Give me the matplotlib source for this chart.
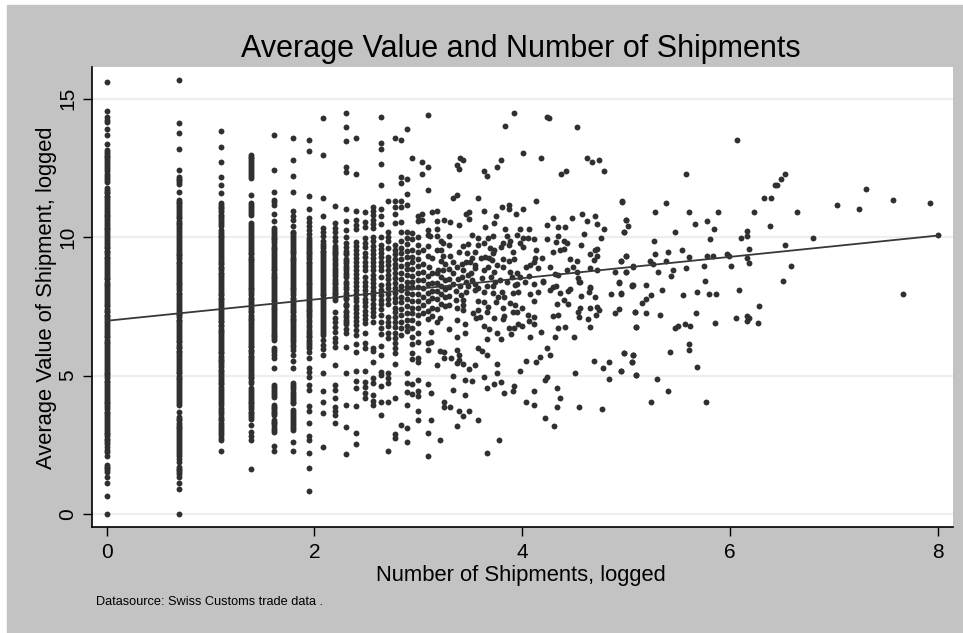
import matplotlib
matplotlib.use('Agg')
import matplotlib.pyplot as plt
from matplotlib.patches import Rectangle

plt.rcParams['font.family'] = 'Liberation Sans'

# shipments are counts, so the low end of the x axis falls into columns at log(n)
col_x = [0, 0.693, 1.099, 1.386, 1.609, 1.792, 1.946, 2.079, 2.197, 2.303,
         2.398, 2.485, 2.565, 2.639, 2.708, 2.773, 2.833, 2.890, 2.944, 2.996]

col_0 = [15.6, 14.56, 14.33, 14.17, 13.9, 13.7, 13.36, 13.15, 13.02, 12.9, 12.75, 12.6, 12.45, 12.3, 12.15, 12.0,
         11.78, 11.65, 11.5, 11.38, 11.22, 11.1, 10.95, 10.8, 10.7, 10.55, 10.4, 10.3, 10.15, 10.0, 9.88, 9.72,
         9.6, 9.45, 9.3, 9.18, 9.02, 8.9, 8.75, 8.6, 8.48, 8.32, 8.2, 8.05, 7.9, 7.78, 7.62, 7.5, 7.35, 7.2, 7.08,
         6.92, 6.8, 6.65, 6.5, 6.38, 6.22, 6.1, 5.95, 5.8, 5.68, 5.52, 5.4, 5.25, 5.1, 4.98, 4.82, 4.7, 4.55, 4.4,
         4.28, 4.12, 4.0, 3.85, 3.7, 3.58, 3.42, 3.3, 3.15, 3.0, 2.88, 2.72, 2.6, 2.43, 2.25, 2.1, 1.77, 1.65, 1.53,
         1.35, 1.11, 0.65, 0,
         14.25, 13.08, 12.95, 12.82, 12.68, 12.52, 12.38, 12.22, 12.08, 11.72, 11.58, 11.44, 11.3, 11.16, 11.02,
         10.88, 10.75, 10.62, 10.48, 10.35, 10.22, 10.08, 9.94, 9.8, 9.66, 9.52, 9.38, 9.24, 9.1, 8.96, 8.82, 8.68,
         8.54, 8.4, 8.26, 8.12, 7.98, 7.84, 7.7, 7.56, 7.42, 7.28, 7.14, 7.0, 6.86, 6.72, 6.58, 6.44, 6.3, 6.16,
         6.02, 5.88, 5.74, 5.6, 5.46, 5.32, 5.18, 5.04, 4.9, 4.76, 4.62, 4.48, 4.34, 4.2, 4.06, 3.92, 3.78, 3.64,
         3.5, 3.36, 3.22, 3.08, 2.94, 2.8, 2.66, 2.52, 2.32, 1.71, 1.59]
col_1 = [15.67, 14.14, 13.78, 13.19, 12.44, 12.19, 12.05, 11.93, 11.65, 11.35, 11.22, 11.08, 10.95, 10.8, 10.68,
         10.52, 10.4, 10.25, 10.1, 9.98, 9.82, 9.7, 9.55, 9.4, 9.28, 9.12, 9.0, 8.85, 8.7, 8.58, 8.42, 8.3, 8.15,
         8.0, 7.88, 7.72, 7.6, 7.45, 7.3, 7.18, 7.02, 6.9, 6.75, 6.6, 6.48, 6.32, 6.2, 6.05, 5.9, 5.78, 5.62, 5.5,
         5.35, 5.2, 5.08, 4.92, 4.8, 4.65, 4.5, 4.38, 4.22, 4.1, 3.94, 3.7, 3.52, 3.38, 3.22, 3.1, 2.95, 2.8, 2.68,
         2.52, 2.4, 2.25, 2.1, 1.89, 1.71, 1.58, 1.45, 1.35, 1.11, 0.9, 0,
         12.12, 11.99, 11.28, 11.15, 11.02, 10.88, 10.74, 10.6, 10.46, 10.32, 10.18, 10.04, 9.9, 9.76, 9.62, 9.48,
         9.34, 9.2, 9.06, 8.92, 8.78, 8.64, 8.5, 8.36, 8.22, 8.08, 7.94, 7.8, 7.66, 7.52, 7.38, 7.24, 7.1, 6.96,
         6.82, 6.68, 6.54, 6.4, 6.26, 6.12, 5.98, 5.84, 5.7, 5.56, 5.42, 5.28, 5.14, 5.0, 4.86, 4.72, 4.58, 4.44,
         4.3, 4.16, 4.02, 3.45, 3.3, 3.16, 3.02, 2.88, 2.74, 2.6, 2.46, 2.32, 2.18, 2.0, 1.64, 1.5]
col_2 = [13.84, 13.25, 12.73, 12.17, 11.88, 11.59, 11.24, 11.1, 10.98, 10.82, 10.7, 10.55, 10.42, 10.26, 10.12,
         10.0, 9.85, 9.72, 9.58, 9.42, 9.3, 9.15, 9.02, 8.88, 8.72, 8.6, 8.45, 8.32, 8.18, 8.02, 7.9, 7.75, 7.62,
         7.48, 7.32, 7.2, 7.05, 6.92, 6.78, 6.62, 6.5, 6.35, 6.22, 6.08, 5.92, 5.8, 5.65, 5.52, 5.38, 5.22, 5.1,
         4.95, 4.82, 4.68, 4.52, 4.38, 4.22, 4.08, 3.92, 3.75, 3.6, 3.45, 3.3, 3.15, 3.0, 2.85, 2.67, 2.28,
         10.2, 10.06, 9.92, 9.78, 9.64, 9.5, 9.36, 9.22, 9.08, 8.94, 8.8, 8.66, 8.52, 8.38, 8.24, 8.1, 7.96, 7.82,
         7.68, 7.54, 7.4, 7.26, 7.12, 6.98, 6.84, 6.7, 6.56, 6.42, 6.28, 6.14, 6.0, 5.86, 5.72, 5.58, 5.44, 5.3,
         5.16, 5.02, 4.88, 4.74, 4.6, 4.46, 4.3, 4.15, 4.0, 3.84, 3.68, 3.52, 3.38, 3.22, 3.08, 2.92, 2.76,
         11.17, 11.04, 10.9, 10.76, 10.62, 10.49]
col_3 = [12.97, 12.85, 12.7, 12.58, 12.42, 12.3, 12.14, 11.53, 11.24, 11.1, 10.95, 10.8, 10.5, 10.36, 10.22, 10.08,
         9.92, 9.8, 9.65, 9.52, 9.38, 9.22, 9.1, 8.95, 8.82, 8.68, 8.52, 8.4, 8.25, 8.12, 7.98, 7.82, 7.7, 7.55,
         7.42, 7.28, 7.12, 7.0, 6.85, 6.72, 6.58, 6.42, 6.3, 6.15, 6.02, 5.88, 5.72, 5.6, 5.45, 5.32, 5.18, 5.02,
         4.9, 4.73, 4.55, 4.42, 4.28, 4.12, 4.0, 3.85, 3.7, 3.58, 3.42, 3.2, 2.97, 2.82, 2.67, 1.63,
         12.9, 12.78, 12.64, 12.5, 12.36, 12.22, 11.17, 11.03, 10.88, 10.43, 10.29, 10.15, 10.0, 9.86, 9.72, 9.58,
         9.44, 9.3, 9.16, 9.02, 8.88, 8.74, 8.6, 8.46, 8.32, 8.18, 8.04, 7.9, 7.76, 7.62, 7.48, 7.34, 7.2, 7.06,
         6.92, 6.78, 6.64, 6.5, 6.36, 6.22, 6.08, 5.94, 5.8, 5.66, 5.52, 5.38, 5.24, 5.1, 4.96, 4.82, 4.48, 4.35,
         4.2, 4.06, 3.92, 3.78, 3.64, 3.5]
col_4 = [13.71, 12.43, 11.64, 11.35, 11.17, 10.84, 10.6, 10.34, 10.2, 10.05, 9.92, 9.78, 9.62, 9.5, 9.35, 9.22, 9.08,
         8.92, 8.8, 8.65, 8.52, 8.38, 8.22, 8.1, 7.95, 7.82, 7.68, 7.52, 7.4, 7.25, 7.12, 6.98, 6.82, 6.7, 6.55, 6.42,
         6.29, 6.0, 5.85, 5.64, 5.29, 4.66, 4.52, 4.38, 4.23, 3.94, 3.82, 3.7, 3.58, 3.4, 3.28, 3.12, 2.97, 2.47, 2.28,
         11.26, 10.27, 10.12, 9.98, 9.85, 9.7, 9.56, 9.42, 9.28, 9.15, 9.0, 8.86, 8.72, 8.58, 8.44, 8.3, 8.16, 8.02,
         7.88, 7.74, 7.6, 7.46, 7.32, 7.18, 7.05, 6.9, 6.76, 6.62, 6.48, 6.35, 5.92, 5.75, 4.59, 4.45, 4.3, 3.88,
         3.76, 3.64, 3.34, 3.2, 3.05]
col_5 = [13.59, 12.79, 12.22, 11.62, 10.93, 10.78, 10.63, 10.42, 10.2, 10.08, 9.92, 9.8, 9.65, 9.52, 9.38, 9.22,
         9.1, 8.95, 8.82, 8.68, 8.52, 8.4, 8.25, 8.12, 7.98, 7.82, 7.7, 7.55, 7.42, 7.28, 7.12, 7.0, 6.85, 6.72, 6.58,
         6.42, 6.3, 6.1, 5.93, 5.75, 5.54, 5.29, 4.73, 4.58, 4.42, 4.28, 4.12, 4.0, 3.76, 3.62, 3.48, 3.32, 3.18, 3.04,
         2.61, 2.28,
         10.14, 10.0, 9.86, 9.72, 9.58, 9.45, 9.3, 9.16, 9.02, 8.88, 8.75, 8.6, 8.46, 8.32, 8.18, 8.05, 7.9, 7.76,
         7.62, 7.48, 7.35, 7.2, 7.06, 6.92, 6.78, 6.65, 6.5, 6.36, 6.2, 6.05, 4.65, 4.5, 4.35, 4.2, 4.06, 3.69, 3.55,
         3.4, 3.25, 3.11]
col_6 = [13.52, 13.13, 11.49, 11.02, 10.7, 10.55, 10.4, 10.25, 10.1, 9.97, 9.84, 9.7, 9.55, 9.42, 9.28, 9.12, 9.0,
         8.85, 8.72, 8.58, 8.42, 8.3, 8.15, 8.02, 7.88, 7.72, 7.6, 7.45, 7.32, 7.18, 7.02, 6.83, 6.65, 6.5, 6.38,
         6.22, 6.08, 5.87, 5.65, 5.29, 5.12, 4.95, 4.66, 4.48, 3.91, 3.73, 3.28, 2.83, 2.67, 2.2, 1.66, 0.83,
         9.9, 9.77, 9.62, 9.48, 9.35, 9.2, 9.06, 8.92, 8.78, 8.65, 8.5, 8.36, 8.22, 8.08, 7.95, 7.8, 7.66, 7.52,
         7.38, 7.25, 7.1, 6.95, 6.76, 6.58, 6.44, 6.3, 6.15, 6.0]
col_7 = [14.31, 12.97, 11.43, 10.78, 10.34, 10.2, 10.05, 9.88, 9.75, 9.6, 9.45, 9.32, 9.18, 9.02, 8.9, 8.75, 8.6,
         8.45, 8.32, 8.18, 8.02, 7.9, 7.75, 7.62, 7.48, 7.32, 7.2, 7.05, 6.9, 6.75, 6.6, 6.47, 6.29, 6.12, 5.95, 5.75,
         5.1, 4.45, 4.05, 3.65, 2.42,
         9.68, 9.52, 9.38, 9.25, 9.1, 8.96, 8.82, 8.68, 8.52, 8.38, 8.25, 8.1, 7.96, 7.82, 7.68, 7.55, 7.4, 7.26,
         7.12, 6.98, 6.82, 6.68, 6.54]
col_8 = [11.11, 10.5, 10.34, 10.18, 10.02, 9.88, 9.7, 9.55, 9.42, 9.25, 9.07, 8.88, 8.75, 8.6, 8.42, 8.3, 8.12, 8.0,
         7.88, 7.73, 7.31, 7.08, 6.92, 6.75, 6.58, 6.36, 6.2, 6.04, 5.38, 4.66, 4.48, 4.19, 3.87, 3.72, 3.58, 3.3,
         9.62, 9.48, 9.34, 9.16, 8.98, 8.82, 8.68, 8.5, 8.36, 8.2, 8.06, 7.94, 7.8]
col_9 = [14.49, 13.97, 13.49, 12.53, 12.37, 11.03, 10.57, 10.26, 9.99, 9.78, 9.65, 9.5, 9.38, 9.2, 9.08, 8.95, 8.8,
         8.7, 8.55, 8.4, 8.3, 8.12, 8.0, 7.9, 7.75, 7.6, 7.5, 7.35, 7.2, 7.1, 6.95, 6.85, 6.7, 6.53, 6.05, 5.1, 3.94,
         3.13, 2.16,
         9.44, 9.14, 8.88, 8.62, 8.2, 7.82, 7.55, 7.28, 7.02]
col_10 = [13.59, 12.27, 10.96, 10.62, 10.44, 10.28, 9.84, 9.7, 9.55, 9.4, 9.25, 9.12, 8.95, 8.82, 8.68, 8.52, 8.38,
          8.22, 8.1, 7.95, 7.8, 7.68, 7.52, 7.4, 7.25, 7.1, 6.98, 6.82, 6.65, 6.47, 6.14, 5.87, 5.17, 4.81, 4.56, 3.91,
          2.94, 2.54]
col_11 = [10.9, 10.56, 10.38, 9.96, 9.78, 9.66, 9.42, 9.28, 9.1, 8.95, 8.8, 8.57, 8.4, 8.25, 8.1, 7.95, 7.78, 7.65,
          7.5, 7.35, 7.2, 7.05, 6.9, 6.53, 6.17, 5.98, 5.16, 4.78, 4.6, 4.37, 4.18]
col_12 = [11.1, 10.95, 10.8, 10.62, 10.48, 10.32, 10.0, 9.85, 9.7, 9.55, 9.4, 9.25, 9.1, 8.95, 8.8, 8.65, 8.5, 8.35,
          8.2, 8.05, 7.9, 7.75, 7.6, 7.45, 7.3, 7.15, 6.95, 5.99, 5.9, 5.48, 4.9, 4.72, 4.3, 4.1, 3.94]
col_13 = [14.33, 13.39, 13.19, 12.65, 11.89, 11.03, 10.77, 10.48, 10.0, 9.72, 9.58, 9.42, 9.28, 9.12, 8.95, 8.8,
          8.57, 8.27, 8.1, 7.9, 7.73, 7.58, 7.4, 7.2, 6.95, 6.71, 6.5, 6.07, 5.75, 5.14, 5.02, 4.62, 4.03, 3.58]
col_14 = [11.3, 10.2, 10.0, 9.85, 9.6, 9.3, 9.15, 9.0, 8.82, 8.65, 8.5, 8.32, 8.15, 7.95, 7.78, 7.6, 7.13, 6.95, 6.78,
          6.55, 6.35, 5.08, 4.9, 4.72, 4.03, 2.29]
col_15 = [13.57, 11.3, 11.1, 10.84, 10.5, 9.72, 9.55, 9.4, 9.22, 9.05, 8.88, 8.7, 8.52, 8.35, 8.18, 8.0, 7.82, 7.65,
          7.45, 7.28, 7.1, 6.92, 6.75, 6.55, 6.35, 6.17, 5.98, 5.8, 5.42, 4.2, 2.9, 2.75]
col_16 = [13.51, 12.19, 11.95, 11.3, 11.1, 10.55, 10.2, 9.85, 9.62, 9.42, 9.2, 8.95, 8.72, 8.5, 8.25, 8.08, 7.85, 7.65,
          7.4, 7.18, 6.95, 6.72, 6.45, 3.2]
col_17 = [13.9, 12.09, 11.56, 11.16, 10.2, 9.98, 9.75, 9.5, 9.3, 9.05, 8.85, 8.62, 8.4, 8.2, 8.0, 7.78, 7.5, 7.25, 7.0,
          6.8, 6.6, 5.1, 4.75, 4.4, 3.92, 3.1, 2.6]
col_18 = [12.86, 10.15, 9.95, 9.55, 9.3, 9.1, 8.85, 8.6, 8.4, 8.2, 7.95, 7.7, 7.45, 7.25, 7.0, 6.72, 6.4, 6.15, 5.8,
          5.6, 4.7, 4.35]
col_19 = [10.77, 10.57, 10.0, 9.72, 9.45, 9.2, 8.95, 8.7, 8.45, 8.2, 7.95, 7.7, 7.45, 7.2, 6.9, 6.55, 6.2, 5.65, 5.5,
          4.85, 4.45, 4.25, 3.72, 3.4]

col_y = [col_0, col_1, col_2, col_3, col_4, col_5, col_6, col_7, col_8, col_9, col_10,
         col_11, col_12, col_13, col_14, col_15, col_16, col_17, col_18, col_19]

# everything right of x = 3, read point by point
sparse_points = [
    (3.09, 14.43), (3.92, 14.49), (3.84, 14.03), (4.24, 14.33), (4.26, 14.3), (4.53, 13.97), (4.01, 13.05), (4.18, 12.86),
    (4.62, 12.86), (4.67, 12.73), (4.74, 12.79), (4.79, 12.4), (4.42, 12.4), (4.37, 12.27), (3.8, 12.79), (3.76, 12.54),
    (3.63, 12.4), (3.66, 12.21), (3.4, 12.86), (3.43, 12.79), (3.37, 12.6), (3.39, 12.45), (3.09, 12.54), (3.04, 12.73),
    (3.04, 12.27), (3.09, 11.69), (3.58, 11.43), (3.37, 11.53), (3.33, 11.43), (4.13, 11.3), (4.96, 11.3), (3.81, 11.09),
    (3.87, 11.16), (3.87, 11.01), (4.01, 11.03), (3.94, 10.84), (3.63, 10.93), (3.75, 10.77), (3.46, 10.84), (3.49, 10.9),
    (3.49, 10.67), (3.18, 10.93), (3.13, 10.9), (3.04, 10.84), (3.04, 10.61), (3.18, 10.57), (3.25, 10.63), (3.31, 10.55),
    (3.39, 10.44), (3.73, 10.5), (3.64, 10.38), (3.84, 10.31), (3.98, 10.31), (4.07, 10.31), (4.24, 10.44), (4.3, 10.71),
    (4.35, 10.38), (4.41, 10.38), (4.48, 10.71), (4.58, 10.84), (4.62, 10.57), (4.7, 10.77), (4.72, 10.48), (4.79, 10.31),
    (5.0, 10.63), (4.6, 10.12), (4.76, 9.98), (4.98, 10.18), (3.18, 10.31), (3.09, 10.26), (3.09, 10.08), (3.11, 10.06),
    (3.18, 10.06), (3.3, 10.06), (3.52, 10.08), (3.58, 9.98), (3.67, 9.98), (3.72, 10.06), (3.85, 10.06), (3.95, 10.08),
    (4.01, 9.98), (4.06, 9.98), (4.11, 9.92), (4.24, 9.92), (4.35, 10.06), (4.33, 9.81), (4.4, 9.85), (4.43, 9.79),
    (4.57, 9.72), (3.22, 9.85), (3.24, 9.79), (3.3, 9.72), (3.43, 9.69), (3.48, 9.75), (3.58, 9.72), (3.63, 9.79),
    (3.69, 9.6), (3.73, 9.54), (3.82, 9.79), (3.8, 9.66), (3.88, 9.85), (3.87, 9.72), (3.98, 9.79), (4.01, 9.66),
    (4.13, 9.53), (4.3, 9.47), (4.36, 9.54), (4.4, 9.59), (4.7, 9.54), (4.72, 9.59), (4.65, 9.39), (4.72, 9.33),
    (4.69, 9.18), (5.0, 9.33), (4.95, 9.14), (4.46, 9.2), (4.53, 9.14), (4.49, 8.93), (4.27, 8.91), (4.19, 9.26),
    (4.12, 9.26), (4.11, 9.12), (4.08, 9.0), (4.04, 8.93), (4.15, 8.87), (3.92, 9.2), (3.87, 9.14), (3.82, 9.2),
    (3.91, 9.45), (3.72, 9.42), (3.68, 9.24), (3.71, 9.18), (3.76, 9.0), (3.67, 8.93), (3.73, 8.75), (3.82, 8.93),
    (3.55, 9.48), (3.52, 9.26), (3.47, 9.42), (3.39, 9.48), (3.31, 9.33), (3.24, 9.33), (3.18, 9.53), (3.22, 9.54),
    (3.09, 9.69), (3.09, 9.33), (3.13, 9.24), (3.05, 9.05), (3.1, 8.93), (3.19, 8.81), (3.24, 8.81), (3.18, 8.69),
    (3.37, 8.93), (3.42, 9.05), (3.5, 9.12), (3.55, 9.0), (3.43, 8.81), (3.42, 8.57), (3.48, 8.63), (3.51, 8.72),
    (3.55, 8.88), (3.63, 8.81), (3.61, 8.51), (3.88, 8.75), (3.95, 8.69), (3.98, 8.57), (4.07, 8.6), (4.32, 8.67),
    (4.35, 8.63), (4.43, 8.81), (4.53, 8.75), (4.54, 8.51), (4.56, 8.39), (4.65, 8.87), (4.72, 8.81), (4.89, 8.75),
    (5.0, 8.75), (5.07, 8.93), (4.93, 8.39), (5.06, 8.25), (4.2, 8.42), (4.11, 8.3), (4.03, 8.39), (3.95, 8.3),
    (3.79, 8.45), (3.72, 8.25), (4.3, 8.21), (4.46, 8.12), (4.65, 8.15),
    # the crowded patch around the start of the scatter
    (3.05, 9.55), (3.05, 8.75), (3.05, 8.45), (3.05, 8.15), (3.05, 7.85), (3.05, 7.55), (3.05, 7.25), (3.09, 8.6),
    (3.09, 8.3), (3.09, 8.0), (3.09, 7.7), (3.09, 7.35), (3.09, 7.05), (3.13, 8.7), (3.13, 8.35), (3.13, 8.05),
    (3.13, 7.8), (3.13, 7.45), (3.13, 7.15), (3.18, 8.35), (3.18, 8.05), (3.18, 7.75), (3.18, 7.42), (3.22, 9.15),
    (3.22, 8.55), (3.22, 8.25), (3.22, 7.95), (3.22, 7.6), (3.26, 9.05), (3.26, 8.45), (3.26, 8.12), (3.26, 7.85),
    (3.26, 7.5), (3.3, 8.85), (3.3, 8.5), (3.3, 8.2), (3.3, 7.88), (3.3, 7.55), (3.33, 9.1), (3.33, 8.7), (3.33, 8.3),
    (3.36, 8.05), (3.36, 7.72), (3.38, 8.5), (3.4, 8.22), (3.41, 7.9), (3.46, 8.4), (3.46, 9.1), (3.52, 8.45),
    (3.55, 8.3), (3.58, 8.15), (3.6, 9.25), (3.64, 9.3), (3.7, 8.55), (3.74, 8.4), (3.85, 8.4), (3.9, 8.55),
    # middle band
    (4.55, 8.4), (4.93, 8.36), (5.07, 8.28), (4.65, 8.19), (4.64, 8.03), (4.86, 7.94), (4.95, 7.98), (4.7, 7.83),
    (4.57, 7.88), (4.44, 8.06), (4.36, 7.98), (4.27, 8.1), (4.33, 8.24), (4.2, 8.4), (4.15, 8.03), (4.08, 7.95),
    (4.11, 7.71), (3.96, 8.03), (3.91, 7.98), (3.93, 8.28), (3.83, 7.85), (3.81, 8.03), (3.75, 7.67), (3.77, 7.83),
    (3.72, 7.98), (3.63, 8.03), (3.66, 8.24), (3.55, 8.1), (3.46, 8.03), (3.48, 8.22), (3.58, 7.71), (3.63, 7.67),
    (3.43, 7.73), (3.43, 7.55), (3.37, 7.43), (3.43, 7.37), (3.53, 7.25), (3.58, 7.37), (3.66, 7.31), (3.67, 7.49),
    (3.56, 7.07), (3.59, 7.11), (3.73, 7.07), (3.82, 7.43), (3.83, 7.15), (3.82, 7.03), (3.88, 7.64), (3.91, 7.31),
    (3.95, 7.29), (4.0, 7.43), (3.93, 7.55), (4.06, 7.18), (4.11, 7.11), (4.07, 6.99), (4.11, 6.87), (4.3, 7.15),
    (4.35, 7.19), (4.34, 7.58), (4.4, 7.73), (4.44, 7.59), (4.54, 7.31), (4.56, 7.43), (4.55, 7.11), (4.65, 7.43),
    (4.72, 7.49), (4.74, 7.37), (4.71, 7.18), (4.63, 7.05), (4.65, 6.77), (4.89, 7.25), (4.93, 7.4), (5.09, 7.29),
    (5.1, 6.75), (4.35, 6.72), (4.41, 6.75), (4.18, 6.59), (4.08, 6.4), (4.32, 6.4), (4.5, 6.4), (4.0, 6.79),
    (3.96, 6.85), (3.92, 6.72), (3.87, 6.72), (3.89, 6.49), (3.8, 6.33), (3.76, 6.53), (3.68, 6.68), (3.63, 6.78),
    (3.66, 6.33), (3.45, 6.85), (3.45, 6.53), (3.37, 7.0), (3.3, 6.69), (3.37, 6.4), (3.21, 7.07), (3.18, 6.92),
    (3.12, 6.59), (3.12, 6.23), (3.09, 6.17), (3.09, 5.93), (3.58, 6.01), (3.61, 5.88), (3.66, 5.75), (3.37, 5.94),
    (3.21, 5.9), (3.25, 5.87), (3.39, 5.75), (3.32, 5.65), (3.25, 5.65), (3.39, 5.57), (3.37, 5.45), (3.43, 5.42),
    (3.18, 5.39), (3.55, 5.39), (3.49, 5.23), (3.76, 5.42), (3.76, 5.08), (3.98, 5.16), (4.24, 6.0), (4.27, 5.73),
    (4.17, 5.67), (4.13, 5.48), (4.04, 5.54), (4.69, 5.54), (4.84, 5.48), (4.78, 5.26), (4.98, 5.81), (5.07, 5.73),
    (5.06, 5.48), (4.95, 5.16), (5.1, 5.02), (4.84, 4.89), (4.51, 5.08), (4.24, 4.96), (4.22, 4.84), (3.33, 4.99),
    (3.33, 4.48), (3.45, 4.83), (3.52, 4.79), (3.63, 4.96), (3.8, 4.77), (3.73, 4.7), (3.66, 4.57), (3.92, 4.64),
    (3.91, 4.45), (3.83, 4.37), (4.11, 4.45), (4.34, 4.57), (4.36, 4.18), (4.34, 3.88), (4.04, 4.05), (4.11, 3.92),
    (4.55, 3.88), (4.77, 3.78), (4.22, 3.46), (4.31, 3.19), (3.45, 4.31), (3.09, 4.7), (3.12, 4.37), (3.25, 4.05),
    (3.25, 3.86), (3.31, 3.88), (3.39, 3.72), (3.49, 3.72), (3.43, 3.53), (3.12, 3.4), (3.58, 3.4), (3.37, 3.19),
    (3.09, 2.94), (3.21, 2.67), (3.78, 2.67), (3.09, 2.1), (3.66, 2.19),
    # right hand side
    (6.07, 13.51), (5.58, 12.27), (6.53, 12.27), (6.49, 12.1), (6.45, 11.89), (6.43, 11.89), (7.31, 11.75), (6.33, 11.42),
    (6.4, 11.42), (7.57, 11.36), (7.93, 11.25), (7.03, 11.16), (7.24, 11.03), (6.65, 10.92), (6.23, 10.92), (4.96, 11.28),
    (5.38, 11.22), (5.28, 10.9), (5.61, 10.9), (5.89, 10.9), (5.0, 10.63), (5.02, 10.42), (5.78, 10.57), (5.66, 10.48),
    (5.85, 10.31), (6.16, 10.24), (6.39, 10.42), (4.98, 10.18), (5.47, 10.18), (6.11, 9.98), (6.16, 10.04), (5.81, 9.92),
    (6.8, 9.98), (8.0, 10.08), (5.27, 9.85), (6.53, 9.72), (6.18, 9.59), (5.54, 9.53), (5.4, 9.47), (5.28, 9.39),
    (5.0, 9.33), (5.61, 9.3), (5.78, 9.33), (5.84, 9.33), (5.97, 9.39), (5.99, 9.33), (6.16, 9.26), (4.95, 9.14),
    (5.23, 9.14), (5.38, 9.14), (5.26, 9.03), (6.18, 9.07), (5.07, 8.95), (5.75, 8.97), (6.01, 8.97), (6.59, 8.95),
    (5.58, 8.87), (5.0, 8.74), (5.31, 8.74), (5.45, 8.81), (5.43, 8.61), (5.76, 8.42), (6.51, 8.42), (5.19, 8.28),
    (5.06, 8.26), (5.35, 8.09), (6.09, 8.09), (4.95, 7.96), (5.24, 7.92), (5.55, 7.9), (5.68, 8.03), (5.8, 7.96),
    (5.87, 7.96), (7.67, 7.96), (5.19, 7.77), (5.15, 7.63), (6.28, 7.5), (5.09, 7.28), (5.19, 7.25), (5.33, 7.18),
    (5.67, 7.25), (6.16, 7.16), (6.06, 7.08), (6.18, 7.07), (6.16, 6.98), (6.27, 6.91), (5.86, 6.91), (5.57, 6.85),
    (5.62, 6.78), (5.5, 6.78), (5.47, 6.72), (5.1, 6.75), (5.61, 6.13), (5.61, 5.94), (5.42, 5.86), (4.98, 5.8),
    (5.07, 5.74), (5.06, 5.48), (5.68, 5.32), (4.95, 5.15), (5.1, 5.02), (5.3, 4.89), (5.4, 4.43), (5.24, 4.04),
    (5.77, 4.04),
]

fit_x = [0, 8]
fit_y = [6.98, 10.06]

x_ticks = [0, 2, 4, 6, 8]
y_ticks = [0, 5, 10, 15]

W, H = 963, 633
fig = plt.figure(figsize=(W / 100, H / 100), dpi=100, facecolor='white')
fig.add_artist(Rectangle((6.5 / W, 0), 1, (H - 5) / H, transform=fig.transFigure, color='#c3c3c3', zorder=-1))

ax = fig.add_axes([92 / W, (H - 527) / H, (953 - 92) / W, (527 - 67) / H])
ax.set_xlim(-0.1396, 8.147)
ax.set_ylim(-0.47, 16.15)

ink = '#303030'
for x, ys in zip(col_x, col_y):
    ax.scatter([x] * len(ys), ys, s=18, color=ink, linewidths=0, zorder=3)
ax.scatter([p[0] for p in sparse_points], [p[1] for p in sparse_points], s=18, color=ink, linewidths=0, zorder=3)
ax.plot(fit_x, fit_y, color='#383838', lw=1.3, zorder=4)

ax.grid(axis='y', color='#eeeeee', lw=1.6, zorder=0)
ax.spines['top'].set_visible(False)
ax.spines['right'].set_visible(False)
ax.spines['left'].set_linewidth(1.2)
ax.spines['bottom'].set_linewidth(1.2)
ax.set_xticks(x_ticks)
ax.set_yticks(y_ticks)
ax.tick_params(length=6.5, width=1.0, labelsize=15, pad=5)
ax.tick_params(axis='y', pad=4)
plt.setp(ax.get_yticklabels(), rotation=90, va='center')

fig.text(521 / W, 1 - 57 / H, 'Average Value and Number of Shipments', ha='center', va='baseline', fontsize=22)
fig.text(520.5 / W, 1 - 576 / H, 'Number of Shipments, logged', ha='center', va='center', fontsize=15.8)
fig.text(46.5 / W, 1 - 297.5 / H, 'Average Value of Shipment, logged', ha='center', va='center', rotation=90, fontsize=15.8)
fig.text(96 / W, 1 - 602 / H, 'Datasource: Swiss Customs trade data .', ha='left', va='center', fontsize=9.2)

fig.savefig('out.png', dpi=100)
